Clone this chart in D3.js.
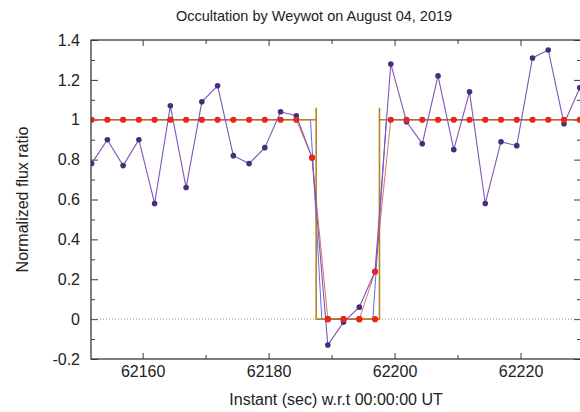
<!DOCTYPE html>
<html>
<head>
<meta charset="utf-8">
<script src="https://cdn.jsdelivr.net/npm/d3@7"></script>
<style>
  html, body { margin: 0; padding: 0; background: #fff; }
  svg { display: block; font-family: "Liberation Sans", Arial, sans-serif; }
</style>
</head>
<body>
<svg id="chart" width="580" height="412"></svg>
<script>
// Observation start times (s after 00:00:00 UT)
const obsTime = [62151.9, 62154.4, 62156.9, 62159.4, 62161.9, 62164.4, 62166.9, 62169.4,
                 62171.9, 62174.4, 62176.9, 62179.4, 62181.9, 62184.4, 62186.9, 62189.4,
                 62191.9, 62194.4, 62196.9, 62199.4, 62201.9, 62204.4, 62206.9, 62209.4,
                 62211.9, 62214.4, 62216.9, 62219.4, 62221.9, 62224.4, 62226.9, 62229.4];

// Observed normalized flux
const obsFlux = [0.78, 0.90, 0.77, 0.90, 0.58, 1.07, 0.66, 1.09,
                 1.17, 0.82, 0.78, 0.86, 1.04, 1.02, 0.81, -0.13,
                 -0.015, 0.06, 0.24, 1.28, 0.99, 0.88, 1.22, 0.85,
                 1.14, 0.58, 0.89, 0.87, 1.31, 1.35, 0.98, 1.16];

// Synthetic flux at the observation times
const modelFlux = [1, 1, 1, 1, 1, 1, 1, 1,
                   1, 1, 1, 1, 1, 1, 0.81, 0,
                   0, 0, 0.237, 1, 1, 1, 1, 1,
                   1, 1, 1, 1, 1, 1, 1, 1];

// Geometric square well with edge fringes
const wellTime = [62151.8, 62187.55, 62187.55, 62187.55, 62197.6, 62197.6, 62197.6, 62229.6];
const wellFlux = [1, 1, 1.06, 0, 0, 1.06, 1, 1];

// Square well sampled at the times inside the shadow
const shadowTime = [62189.4, 62191.9, 62194.4, 62196.9];
const shadowFlux = [0, 0, 0, 0];

// Smoothed model (finite integration time)
const smoothTime = [62151.8, 62186.65, 62188.45, 62196.55, 62198.7, 62229.6];
const smoothFlux = [1, 1, 0, 0, 1, 1];

// Axis ticks
const xMajorTicks = [62160, 62180, 62200, 62220];
const xMinorTicks = [62170, 62190, 62210];
const yMajorTicks = [-0.2, 0, 0.2, 0.4, 0.6, 0.8, 1, 1.2, 1.4];
const yTickLabels = ["-0.2", "0", "0.2", "0.4", "0.6", "0.8", "1", "1.2", "1.4"];
const yMinorTicks = [-0.1, 0.1, 0.3, 0.5, 0.7, 0.9, 1.1, 1.3];

const titleText = "Occultation by Weywot on August 04, 2019";
const xTitle = "Instant (sec) w.r.t 00:00:00 UT";
const yTitle = "Normalized flux ratio";

const svg = d3.select("#chart");
const plotLeft = 91, plotRight = 581, plotTop = 40, plotBottom = 359;

const x = d3.scaleLinear().domain([62151.8, 62229.6]).range([plotLeft, plotRight]);
const y = d3.scaleLinear().domain([-0.2, 1.4]).range([plotBottom, plotTop]);

svg.append("defs").append("clipPath").attr("id", "plotClip")
  .append("rect").attr("x", plotLeft).attr("y", plotTop)
  .attr("width", plotRight - plotLeft).attr("height", plotBottom - plotTop);

const textColor = "#222";
const axisColor = "#3a3a3a";

// Axes with inward ticks on all four sides
function styleAxis(g) {
  g.select(".domain").remove();
  g.selectAll(".tick line").attr("stroke", axisColor).attr("stroke-width", 1);
  g.selectAll(".tick text").attr("fill", textColor).attr("font-size", 16)
    .attr("font-family", "'Liberation Sans', Arial, sans-serif");
}

svg.append("g").attr("transform", `translate(0,${plotBottom})`)
  .call(d3.axisBottom(x).tickValues(xMajorTicks).tickSize(-6).tickPadding(7).tickFormat(d3.format("d")))
  .call(styleAxis);
svg.append("g").attr("transform", `translate(0,${plotBottom})`)
  .call(d3.axisBottom(x).tickValues(xMinorTicks).tickSize(-4).tickFormat(""))
  .call(styleAxis);
svg.append("g").attr("transform", `translate(0,${plotTop})`)
  .call(d3.axisTop(x).tickValues(xMajorTicks).tickSize(-6).tickFormat(""))
  .call(styleAxis);
svg.append("g").attr("transform", `translate(0,${plotTop})`)
  .call(d3.axisTop(x).tickValues(xMinorTicks).tickSize(-4).tickFormat(""))
  .call(styleAxis);

svg.append("g").attr("transform", `translate(${plotLeft},0)`)
  .call(d3.axisLeft(y).tickValues(yMajorTicks).tickSize(-7).tickPadding(11)
    .tickFormat((d, i) => yTickLabels[i]))
  .call(styleAxis);
svg.append("g").attr("transform", `translate(${plotLeft},0)`)
  .call(d3.axisLeft(y).tickValues(yMinorTicks).tickSize(-4).tickFormat(""))
  .call(styleAxis);
svg.append("g").attr("transform", `translate(${plotRight},0)`)
  .call(d3.axisRight(y).tickValues(yMajorTicks).tickSize(-7).tickFormat(""))
  .call(styleAxis);
svg.append("g").attr("transform", `translate(${plotRight},0)`)
  .call(d3.axisRight(y).tickValues(yMinorTicks).tickSize(-4).tickFormat(""))
  .call(styleAxis);

// Zero-flux reference
svg.append("line")
  .attr("x1", plotLeft).attr("x2", plotRight).attr("y1", y(0)).attr("y2", y(0))
  .attr("stroke", "#9a9a9a").attr("stroke-width", 1).attr("stroke-dasharray", "1,2");

const plot = svg.append("g").attr("clip-path", "url(#plotClip)");

const line = d3.line().x(d => x(d[0])).y(d => y(d[1]));

// Smoothed model
plot.append("path")
  .attr("d", line(d3.zip(smoothTime, smoothFlux)))
  .attr("fill", "none").attr("stroke", "#5b6ee8").attr("stroke-width", 1);

// Square well
plot.append("path")
  .attr("d", line(d3.zip(wellTime, wellFlux)))
  .attr("fill", "none").attr("stroke", "#b5842a").attr("stroke-width", 1.6);

// Model line through the sampled points
plot.append("path")
  .attr("d", line(d3.zip(obsTime, modelFlux)))
  .attr("fill", "none").attr("stroke", "#c8473a").attr("stroke-width", 1).attr("stroke-opacity", 0.75);

// Observed light curve
plot.append("path")
  .attr("d", line(d3.zip(obsTime, obsFlux)))
  .attr("fill", "none").attr("stroke", "#8255b5").attr("stroke-width", 1.1);

plot.selectAll("circle.obs")
  .data(d3.zip(obsTime, obsFlux)).join("circle").attr("class", "obs")
  .attr("cx", d => x(d[0])).attr("cy", d => y(d[1])).attr("r", 2.8)
  .attr("fill", "#43307a");

plot.selectAll("circle.shadow")
  .data(d3.zip(shadowTime, shadowFlux)).join("circle").attr("class", "shadow")
  .attr("cx", d => x(d[0])).attr("cy", d => y(d[1])).attr("r", 3.1)
  .attr("fill", "#e6261f");

plot.selectAll("circle.model")
  .data(d3.zip(obsTime, modelFlux)).join("circle").attr("class", "model")
  .attr("cx", d => x(d[0])).attr("cy", d => y(d[1])).attr("r", 3.1)
  .attr("fill", "#e6261f");

// Frame
svg.append("rect")
  .attr("x", plotLeft).attr("y", plotTop).attr("width", plotRight - plotLeft).attr("height", plotBottom - plotTop)
  .attr("fill", "none").attr("stroke", axisColor).attr("stroke-width", 1.3);

// Titles
svg.append("text").attr("x", 314).attr("y", 21).attr("text-anchor", "middle")
  .attr("font-size", 14.5).attr("fill", textColor).text(titleText);

svg.append("text").attr("x", (plotLeft + plotRight) / 2).attr("y", 405).attr("text-anchor", "middle")
  .attr("font-size", 16).attr("fill", textColor).text(xTitle);

svg.append("text").attr("transform", `translate(28,${(plotTop + plotBottom) / 2}) rotate(-90)`)
  .attr("text-anchor", "middle").attr("font-size", 16).attr("fill", textColor).text(yTitle);
</script>
</body>
</html>
